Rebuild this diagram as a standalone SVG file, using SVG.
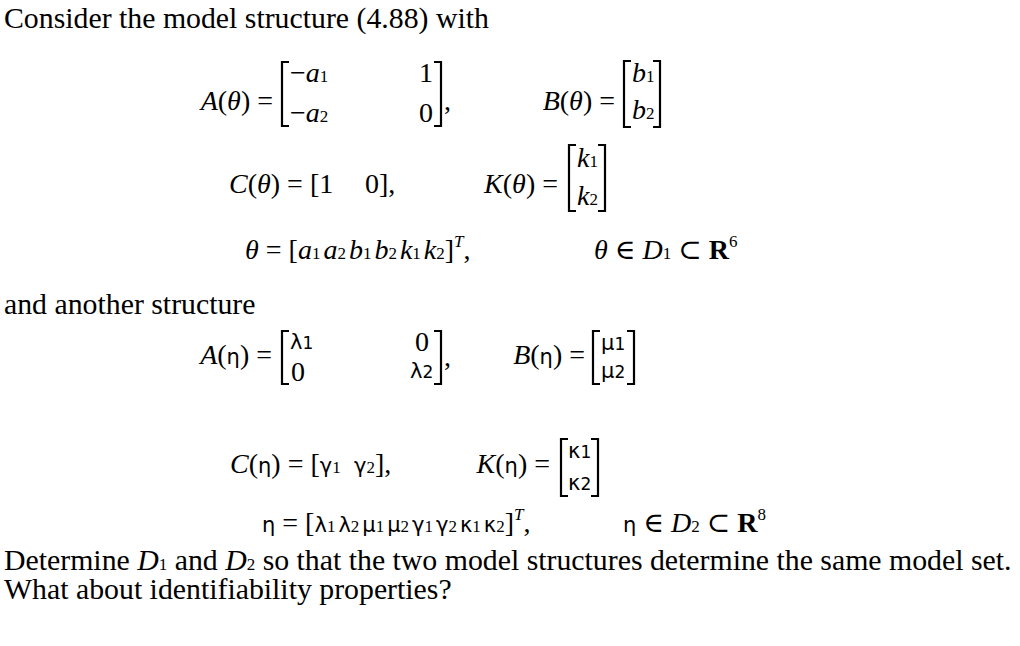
<svg xmlns="http://www.w3.org/2000/svg" width="1020" height="646" viewBox="0 0 1020 646">
<style>
text{font-family:"Liberation Serif","DejaVu Serif",serif;font-size:28px;fill:#000}
.p{font-size:29.8px}
.i{font-style:italic}
.s{font-size:17px}
.g{font-family:"DejaVu Sans","Liberation Sans",sans-serif;font-size:21px}
.e{text-anchor:end}
.br{fill:none;stroke:#000;stroke-width:2.2}
</style>
<rect width="1020" height="646" fill="#fff"/>
<text class="p" x="4" y="28">Consider the model structure (4.88) with</text>
<g id="Atheta">
<text class="e" x="273" y="110"><tspan class="i">A</tspan>(<tspan class="i">θ</tspan>) =</text>
<path class="br" d="M289,62 H282 V126 H289 M434,62 H441 V126 H434"/>
<text x="290" y="82">−<tspan class="i">a</tspan><tspan class="s">1</tspan></text>
<text x="290" y="122">−<tspan class="i">a</tspan><tspan class="s">2</tspan></text>
<text x="419" y="82">1</text><text x="419" y="122">0</text>
<text x="444" y="110">,</text>
</g>
<g id="Btheta">
<text class="e" x="615" y="110"><tspan class="i">B</tspan>(<tspan class="i">θ</tspan>) =</text>
<path class="br" d="M631,61 H624 V127 H631 M653,61 H660 V127 H653"/>
<text class="i" x="632" y="82">b<tspan class="s" font-style="normal">1</tspan></text>
<text class="i" x="632" y="119">b<tspan class="s" font-style="normal">2</tspan></text>
</g>
<g id="Ctheta"><text x="229" y="193"><tspan class="i">C</tspan>(<tspan class="i">θ</tspan>) = [1</text><text x="365" y="193">0],</text></g>
<g id="Ktheta">
<text class="e" x="558" y="193"><tspan class="i">K</tspan>(<tspan class="i">θ</tspan>) =</text>
<path class="br" d="M576,145 H569 V211 H576 M598,145 H605 V211 H598"/>
<text class="i" x="577" y="167">k<tspan class="s" font-style="normal">1</tspan></text>
<text class="i" x="577" y="205">k<tspan class="s" font-style="normal">2</tspan></text>
</g>
<g id="thetadef">
<text x="245" y="259"><tspan class="i">θ</tspan> = [<tspan class="i">a</tspan><tspan class="s">1</tspan><tspan class="i" dx="3">a</tspan><tspan class="s">2</tspan><tspan class="i" dx="3">b</tspan><tspan class="s">1</tspan><tspan class="i" dx="3">b</tspan><tspan class="s">2</tspan><tspan class="i" dx="3">k</tspan><tspan class="s">1</tspan><tspan class="i" dx="3">k</tspan><tspan class="s">2</tspan>]<tspan class="i s" dy="-12">T</tspan><tspan dy="12">,</tspan></text>
<text x="594" y="259"><tspan class="i">θ</tspan> ∈ <tspan class="i">D</tspan><tspan class="s">1</tspan> ⊂ <tspan font-weight="bold">R</tspan><tspan class="s" dy="-12">6</tspan></text>
</g>
<text class="p" x="4" y="314">and another structure</text>
<g id="Aeta">
<text class="e" x="272" y="364"><tspan class="i">A</tspan>(<tspan class="g">η</tspan>) =</text>
<path class="br" d="M289,331 H282 V384 H289 M434,331 H441 V384 H434"/>
<text class="g" x="290" y="349">λ<tspan class="s">1</tspan></text>
<text x="291" y="381">0</text>
<text x="415" y="351">0</text>
<text class="g" x="410" y="378">λ<tspan class="s">2</tspan></text>
<text x="444" y="366">,</text>
</g>
<g id="Beta">
<text class="e" x="585" y="364"><tspan class="i">B</tspan>(<tspan class="g">η</tspan>) =</text>
<path class="br" d="M600,331 H593 V384 H600 M627,331 H634 V384 H627"/>
<text class="g" x="601" y="350">μ<tspan class="s">1</tspan></text>
<text class="g" x="601" y="378">μ<tspan class="s">2</tspan></text>
</g>
<g id="Ceta"><text x="230" y="473"><tspan class="i">C</tspan>(<tspan class="g">η</tspan>) = [<tspan class="g">γ</tspan><tspan class="s">1</tspan></text><text x="354" y="473"><tspan class="g">γ</tspan><tspan class="s">2</tspan>],</text></g>
<g id="Keta">
<text class="e" x="550" y="473"><tspan class="i">K</tspan>(<tspan class="g">η</tspan>) =</text>
<path class="br" d="M568,439 H561 V496 H568 M591,439 H598 V496 H591"/>
<text class="g" x="568" y="458">κ<tspan class="s">1</tspan></text>
<text class="g" x="568" y="490">κ<tspan class="s">2</tspan></text>
</g>
<g id="etadef">
<text x="262" y="532"><tspan class="g">η</tspan> = [<tspan class="g">λ</tspan><tspan class="s">1</tspan><tspan class="g" dx="3">λ</tspan><tspan class="s">2</tspan><tspan class="g" dx="3">μ</tspan><tspan class="s">1</tspan><tspan class="g" dx="3">μ</tspan><tspan class="s">2</tspan><tspan class="g" dx="3">γ</tspan><tspan class="s">1</tspan><tspan class="g" dx="3">γ</tspan><tspan class="s">2</tspan><tspan class="g" dx="3">κ</tspan><tspan class="s">1</tspan><tspan class="g" dx="3">κ</tspan><tspan class="s">2</tspan>]<tspan class="i s" dy="-12">T</tspan><tspan dy="12">,</tspan></text>
<text x="623" y="532"><tspan class="g">η</tspan> ∈ <tspan class="i">D</tspan><tspan class="s">2</tspan> ⊂ <tspan font-weight="bold">R</tspan><tspan class="s" dy="-12">8</tspan></text>
</g>
<text class="p" x="4" y="570">Determine <tspan class="i">D</tspan><tspan class="s">1</tspan> and <tspan class="i">D</tspan><tspan class="s">2</tspan> so that the two model structures determine the same model set.</text>
<text class="p" x="4" y="599">What about identifiability properties?</text>
</svg>
